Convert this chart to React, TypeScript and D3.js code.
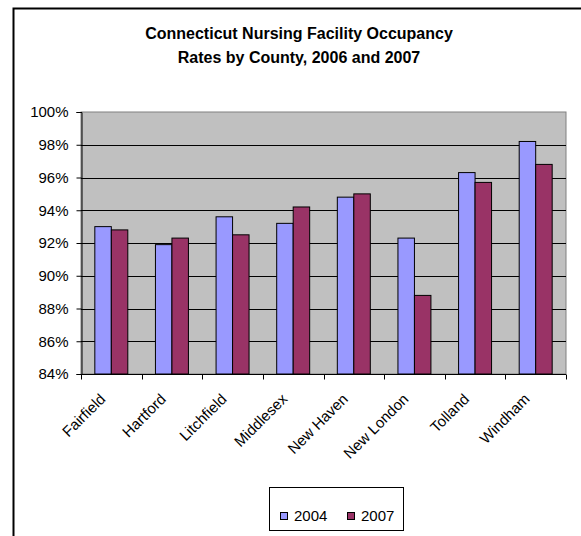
import React, { useEffect, useRef } from 'react'
import * as d3 from 'd3'

const counties = ['Fairfield', 'Hartford', 'Litchfield', 'Middlesex', 'New Haven', 'New London', 'Tolland', 'Windham']
const series = ['2004', '2007']
const values2004 = [93.0, 91.9, 93.6, 93.2, 94.8, 92.3, 96.3, 98.2]
const values2007 = [92.8, 92.3, 92.5, 94.2, 95.0, 88.8, 95.7, 96.8]
const yTicks = [84, 86, 88, 90, 92, 94, 96, 98, 100]
const colors = ['#9999FF', '#993366']
const titleLines = ['Connecticut Nursing Facility Occupancy', 'Rates by County, 2006 and 2007']

const W = 581
const H = 536
const plot = { left: 81, right: 566, top: 112, bottom: 374 }
const font = '"Liberation Sans", Arial, sans-serif'

const App = () => {
  const ref = useRef(null)

  useEffect(() => {
    const svg = d3.select(ref.current)
    svg.selectAll('*').remove()

    // outer chart frame (runs off the right and bottom of the page)
    svg.append('rect')
      .attr('x', 13.5).attr('y', 8.5)
      .attr('width', 590).attr('height', 560)
      .attr('fill', '#fff').attr('stroke', '#000').attr('stroke-width', 2)

    const title = svg.append('text')
      .attr('x', 299).attr('y', 39)
      .attr('text-anchor', 'middle')
      .style('font-family', font).style('font-size', '16px').style('font-weight', 'bold')
    titleLines.forEach((t, i) => {
      title.append('tspan').attr('x', 299).attr('dy', i === 0 ? 0 : 24).text(t)
    })

    const x = d3.scaleBand().domain(counties).range([plot.left, plot.right])
    const bw = x.bandwidth()
    const xInner = d3.scaleBand().domain(series).range([bw * 0.228, bw * 0.772])
    const y = d3.scaleLinear().domain([84, 100]).range([plot.bottom, plot.top])

    svg.append('rect')
      .attr('x', plot.left).attr('y', plot.top)
      .attr('width', plot.right - plot.left).attr('height', plot.bottom - plot.top)
      .attr('fill', '#C0C0C0').attr('stroke', '#808080').attr('stroke-width', 1)

    svg.append('g').selectAll('line')
      .data(yTicks.slice(1, -1))
      .enter().append('line')
      .attr('x1', plot.left).attr('x2', plot.right)
      .attr('y1', d => Math.round(y(d)) + 0.5).attr('y2', d => Math.round(y(d)) + 0.5)
      .attr('stroke', '#000')

    const data = [values2004, values2007]
    series.forEach((s, si) => {
      svg.append('g').selectAll('rect')
        .data(counties)
        .enter().append('rect')
        .attr('x', d => x(d) + xInner(s))
        .attr('width', xInner.bandwidth())
        .attr('y', (d, i) => y(data[si][i]))
        .attr('height', (d, i) => plot.bottom - y(data[si][i]))
        .attr('fill', colors[si])
        .attr('stroke', '#000').attr('stroke-width', 1)
    })

    // y axis
    const yAxis = d3.axisLeft(y).tickValues(yTicks).tickSize(5).tickPadding(8).tickFormat(d => d + '%')
    const ya = svg.append('g').attr('transform', `translate(${plot.left + 0.5},0)`).call(yAxis)
    ya.select('.domain').attr('stroke', '#000')
    ya.selectAll('text').style('font-family', font).style('font-size', '15px').attr('fill', '#000')

    // x axis, ticks at the category boundaries
    const xa = svg.append('g').attr('transform', `translate(0,${plot.bottom + 0.5})`)
    xa.append('line').attr('x1', plot.left).attr('x2', plot.right).attr('stroke', '#000')
    xa.selectAll('line.tick')
      .data(counties.concat(['end']))
      .enter().append('line')
      .attr('class', 'tick')
      .attr('x1', (d, i) => Math.round(plot.left + i * bw) + 0.5)
      .attr('x2', (d, i) => Math.round(plot.left + i * bw) + 0.5)
      .attr('y1', 0).attr('y2', 5)
      .attr('stroke', '#000')

    svg.append('g').selectAll('text')
      .data(counties)
      .enter().append('text')
      .attr('transform', d => `translate(${x(d) + bw / 2 - 5},${plot.bottom + 26}) rotate(-45)`)
      .attr('text-anchor', 'end')
      .style('font-family', font).style('font-size', '15px')
      .text(d => d)

    // legend
    const lg = svg.append('g')
    lg.append('rect')
      .attr('x', 269.5).attr('y', 487.5).attr('width', 134).attr('height', 43)
      .attr('fill', '#fff').attr('stroke', '#000')
    series.forEach((s, i) => {
      const lx = 280 + i * 67
      lg.append('rect')
        .attr('x', lx + 0.5).attr('y', 512.5).attr('width', 7).attr('height', 7)
        .attr('fill', colors[i]).attr('stroke', '#000')
      lg.append('text')
        .attr('x', lx + 14).attr('y', 516).attr('dy', '0.35em')
        .style('font-family', font).style('font-size', '15px')
        .text(s)
    })
  }, [])

  return <svg ref={ref} width={W} height={H} style={{ position: 'absolute', left: 0, top: 0 }} />
}

export default App
